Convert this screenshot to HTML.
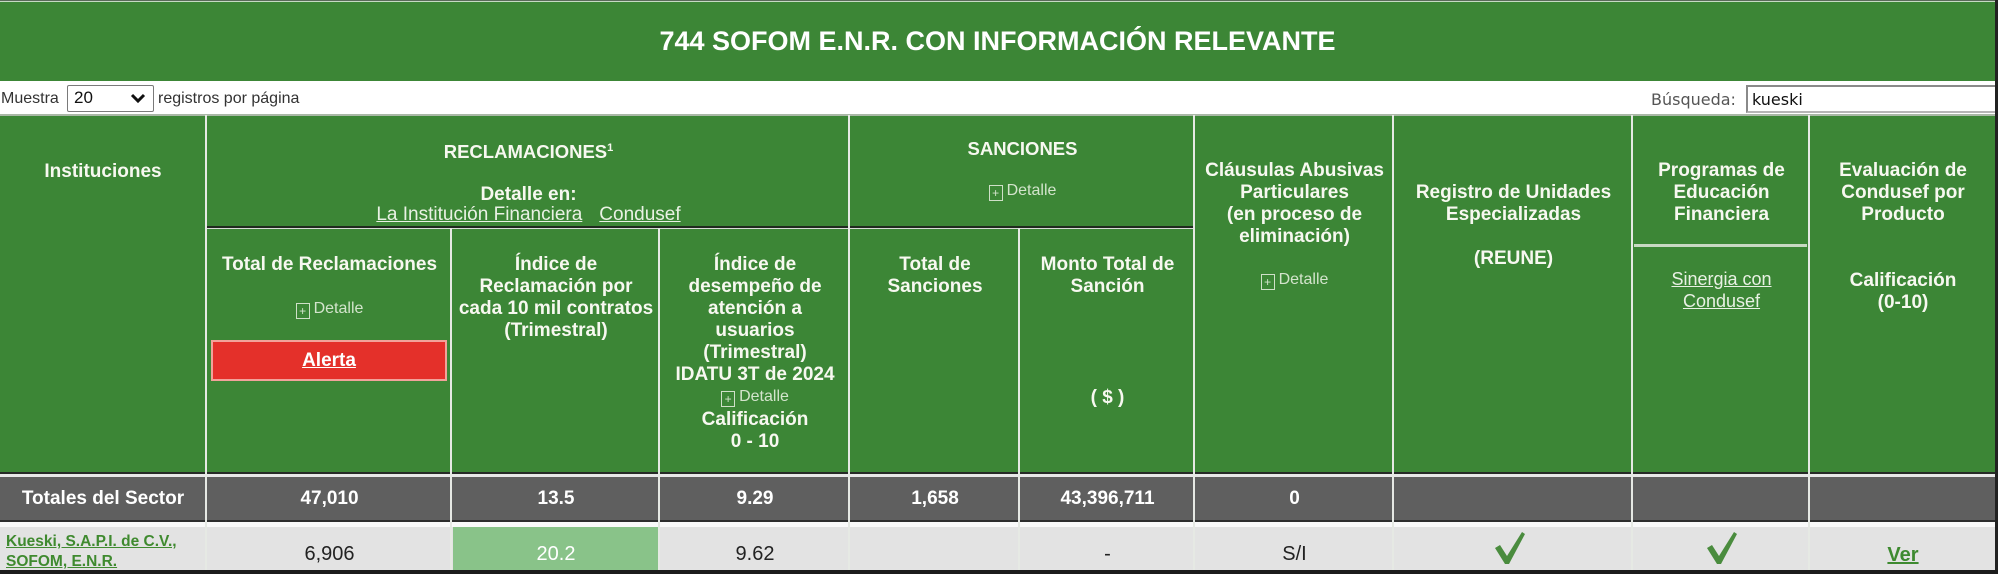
<!DOCTYPE html>
<html>
<head>
<meta charset="utf-8">
<style>
  html,body{margin:0;padding:0;}
  body{width:1998px;height:574px;position:relative;overflow:hidden;background:#fff;font-family:"Liberation Sans",Arial,sans-serif;}
  .a{position:absolute;}
  .c{position:absolute;text-align:center;white-space:nowrap;height:22px;line-height:22px;}
  .h{color:#f7f8f0;font-weight:bold;font-size:19px;}
  .det{color:#d3e4cc;font-size:16px;font-weight:normal;}
  .ic{display:inline-block;width:12px;height:14px;border:1px solid #cfe0c8;font-size:12px;line-height:14px;text-align:center;vertical-align:-2px;margin-right:4px;color:#d3e4cc;}
  .vl{position:absolute;width:2px;background:#e6e9e4;}
  .tot{color:#fff;font-weight:bold;font-size:19px;}
  .val{color:#222;font-size:20px;}
  .lnk{color:#e9f1e4;text-decoration:underline;font-weight:normal;font-size:19px;}
</style>
</head>
<body>
<!-- top edge -->
<div class="a" style="left:0;top:0;width:1998px;height:1px;background:#5a6a5a;"></div>
<div class="a" style="left:0;top:1px;width:1998px;height:1px;background:#c6dac4;"></div>
<!-- title bar -->
<div class="a" style="left:0;top:2px;width:1995px;height:79px;background:#3c8636;"></div>
<div class="a" style="left:0;top:25px;width:1995px;height:32px;line-height:32px;text-align:center;color:#fff;font-weight:bold;font-size:27px;white-space:nowrap;">744 SOFOM E.N.R. CON INFORMACIÓN RELEVANTE</div>

<!-- toolbar -->
<div class="a" style="left:1px;top:88px;height:22px;line-height:22px;font-size:16px;color:#333;white-space:nowrap;">Muestra</div>
<div class="a" style="left:67px;top:85px;width:85px;height:25px;border:1px solid #7a7a7a;border-radius:2px;background:#fff;"></div>
<div class="a" style="left:74px;top:87px;height:22px;line-height:22px;font-size:17px;color:#111;">20</div>
<svg class="a" style="left:130px;top:93px;" width="16" height="12" viewBox="0 0 16 12"><polyline points="2,2 8,8 14,2" fill="none" stroke="#111" stroke-width="3"/></svg>
<div class="a" style="left:158px;top:88px;height:22px;line-height:22px;font-size:16px;color:#333;white-space:nowrap;">registros por página</div>

<div class="a" style="left:1651px;top:89px;height:22px;line-height:22px;font-size:16px;color:#555;font-family:'DejaVu Sans',sans-serif;white-space:nowrap;">Búsqueda:</div>
<div class="a" style="left:1746px;top:85px;width:260px;height:24px;border-top:2px solid #8a8a8a;border-left:2px solid #8a8a8a;border-bottom:2px solid #b5b5b5;background:#fff;"></div>
<div class="a" style="left:1752px;top:89px;height:22px;line-height:22px;font-size:16px;color:#111;font-family:'DejaVu Sans',sans-serif;">kueski</div>

<!-- header background -->
<div class="a" style="left:0;top:115px;width:1995px;height:358px;background:#3c8636;"></div>
<div class="a" style="left:0;top:114px;width:1995px;height:2px;background:#a9b8a6;"></div>

<!-- totals row -->
<div class="a" style="left:0;top:472px;width:1995px;height:2px;background:#262a26;"></div>
<div class="a" style="left:0;top:474px;width:1995px;height:3px;background:#e8e8e8;"></div>
<div class="a" style="left:0;top:477px;width:1995px;height:44px;background:#5f5f5f;"></div>
<div class="a" style="left:0;top:520px;width:1995px;height:2px;background:#2e2e2e;"></div>
<div class="a" style="left:0;top:522px;width:1995px;height:5px;background:#fafafa;"></div>
<!-- kueski row -->
<div class="a" style="left:0;top:527px;width:1995px;height:43px;background:#e3e3e3;"></div>
<div class="a" style="left:453px;top:527px;width:206px;height:43px;background:#89c389;"></div>

<!-- group separator -->
<div class="a" style="left:206px;top:226px;width:988px;height:2px;background:#1f2a1e;"></div>
<div class="a" style="left:206px;top:228px;width:988px;height:1px;background:#d8dcd6;"></div>

<!-- vertical lines -->
<div class="vl" style="left:205px;top:115px;height:455px;"></div>
<div class="vl" style="left:450px;top:228px;height:342px;"></div>
<div class="vl" style="left:658px;top:228px;height:342px;"></div>
<div class="vl" style="left:848px;top:115px;height:455px;"></div>
<div class="vl" style="left:1018px;top:228px;height:342px;"></div>
<div class="vl" style="left:1193px;top:115px;height:455px;"></div>
<div class="vl" style="left:1392px;top:115px;height:455px;"></div>
<div class="vl" style="left:1631px;top:115px;height:455px;"></div>
<div class="vl" style="left:1808px;top:115px;height:455px;"></div>

<!-- Programas inner line -->
<div class="a" style="left:1634px;top:244px;width:173px;height:3px;background:#c8d9c3;"></div>

<!-- edges -->
<div class="a" style="left:1995px;top:0;width:3px;height:574px;background:#222;"></div>
<div class="a" style="left:0;top:570px;width:1998px;height:4px;background:#1c1c1c;"></div>

<!-- Header texts -->
<div class="c h" style="left:0;width:206px;top:161px;">Instituciones</div>

<div class="c h" style="left:208px;width:641px;top:141px;font-size:18.5px;">RECLAMACIONES<sup style="font-size:11px;vertical-align:7px;line-height:0;">1</sup></div>
<div class="c h" style="left:208px;width:641px;top:184px;">Detalle en:</div>
<div class="c" style="left:208px;width:641px;top:204px;"><span class="lnk">La Institución Financiera</span><span style="display:inline-block;width:17px;"></span><span class="lnk">Condusef</span></div>

<div class="c h" style="left:851px;width:343px;top:138px;font-size:18.5px;">SANCIONES</div>
<div class="c det" style="left:851px;width:343px;top:180px;"><span class="ic">+</span>Detalle</div>

<!-- Total de Reclamaciones -->
<div class="c h" style="left:208px;width:243px;top:254px;">Total de Reclamaciones</div>
<div class="c det" style="left:208px;width:243px;top:298px;"><span class="ic">+</span>Detalle</div>
<div class="a" style="left:211px;top:340px;width:232px;height:37px;background:#e4302a;border:2px solid #f2a29a;"></div>
<div class="c" style="left:211px;width:236px;top:350px;color:#fff;font-weight:bold;font-size:19px;text-decoration:underline;">Alerta</div>

<!-- Indice de Reclamacion -->
<div class="c h" style="left:453px;width:206px;top:254px;">Índice de</div>
<div class="c h" style="left:453px;width:206px;top:276px;">Reclamación por</div>
<div class="c h" style="left:453px;width:206px;top:298px;">cada 10 mil contratos</div>
<div class="c h" style="left:453px;width:206px;top:320px;">(Trimestral)</div>

<!-- Indice de desempeño -->
<div class="c h" style="left:661px;width:188px;top:254px;">Índice de</div>
<div class="c h" style="left:661px;width:188px;top:276px;">desempeño de</div>
<div class="c h" style="left:661px;width:188px;top:298px;">atención a</div>
<div class="c h" style="left:661px;width:188px;top:320px;">usuarios</div>
<div class="c h" style="left:661px;width:188px;top:342px;">(Trimestral)</div>
<div class="c h" style="left:661px;width:188px;top:364px;">IDATU 3T de 2024</div>
<div class="c det" style="left:661px;width:188px;top:386px;"><span class="ic">+</span>Detalle</div>
<div class="c h" style="left:661px;width:188px;top:409px;">Calificación</div>
<div class="c h" style="left:661px;width:188px;top:431px;">0 - 10</div>

<!-- Sanciones sub -->
<div class="c h" style="left:851px;width:168px;top:254px;">Total de</div>
<div class="c h" style="left:851px;width:168px;top:276px;">Sanciones</div>
<div class="c h" style="left:1021px;width:173px;top:254px;">Monto Total de</div>
<div class="c h" style="left:1021px;width:173px;top:276px;">Sanción</div>
<div class="c h" style="left:1021px;width:173px;top:387px;">( $ )</div>

<!-- Clausulas -->
<div class="c h" style="left:1196px;width:197px;top:160px;">Cláusulas Abusivas</div>
<div class="c h" style="left:1196px;width:197px;top:182px;">Particulares</div>
<div class="c h" style="left:1196px;width:197px;top:204px;">(en proceso de</div>
<div class="c h" style="left:1196px;width:197px;top:226px;">eliminación)</div>
<div class="c det" style="left:1196px;width:197px;top:269px;"><span class="ic">+</span>Detalle</div>

<!-- Registro -->
<div class="c h" style="left:1395px;width:237px;top:182px;">Registro de Unidades</div>
<div class="c h" style="left:1395px;width:237px;top:204px;">Especializadas</div>
<div class="c h" style="left:1395px;width:237px;top:248px;">(REUNE)</div>

<!-- Programas -->
<div class="c h" style="left:1634px;width:175px;top:160px;">Programas de</div>
<div class="c h" style="left:1634px;width:175px;top:182px;">Educación</div>
<div class="c h" style="left:1634px;width:175px;top:204px;">Financiera</div>
<div class="c" style="left:1634px;width:175px;top:268px;"><span class="lnk" style="font-size:18px;">Sinergia con</span></div>
<div class="c" style="left:1634px;width:175px;top:290px;"><span class="lnk" style="font-size:18px;">Condusef</span></div>

<!-- Evaluacion -->
<div class="c h" style="left:1811px;width:184px;top:160px;">Evaluación de</div>
<div class="c h" style="left:1811px;width:184px;top:182px;">Condusef por</div>
<div class="c h" style="left:1811px;width:184px;top:204px;">Producto</div>
<div class="c h" style="left:1811px;width:184px;top:270px;">Calificación</div>
<div class="c h" style="left:1811px;width:184px;top:292px;">(0-10)</div>

<!-- Totals row text -->
<div class="c tot" style="left:0;width:206px;top:488px;">Totales del Sector</div>
<div class="c tot" style="left:208px;width:243px;top:488px;">47,010</div>
<div class="c tot" style="left:453px;width:206px;top:488px;">13.5</div>
<div class="c tot" style="left:661px;width:188px;top:488px;">9.29</div>
<div class="c tot" style="left:851px;width:168px;top:488px;">1,658</div>
<div class="c tot" style="left:1021px;width:173px;top:488px;">43,396,711</div>
<div class="c tot" style="left:1196px;width:197px;top:488px;">0</div>

<!-- Kueski row -->
<div class="a" style="left:6px;top:532px;line-height:20px;font-size:15.5px;font-weight:bold;color:#3f8a2f;text-decoration:underline;white-space:nowrap;">Kueski, S.A.P.I. de C.V.,<br>SOFOM, E.N.R.</div>
<div class="c val" style="left:208px;width:243px;top:543px;">6,906</div>
<div class="c val" style="left:453px;width:206px;top:543px;color:#fff;">20.2</div>
<div class="c val" style="left:661px;width:188px;top:543px;">9.62</div>
<div class="c val" style="left:1021px;width:173px;top:543px;">-</div>
<div class="c val" style="left:1196px;width:197px;top:543px;">S/I</div>
<svg class="a" style="left:1494px;top:531px;" width="32" height="34" viewBox="0 0 32 34"><path d="M1,17 L6,14 L13,25 L28,1 L31,3 L15,33 L11,33 Z" fill="#4a8c3e"/></svg>
<svg class="a" style="left:1706px;top:531px;" width="32" height="34" viewBox="0 0 32 34"><path d="M1,17 L6,14 L13,25 L28,1 L31,3 L15,33 L11,33 Z" fill="#4a8c3e"/></svg>
<div class="c" style="left:1811px;width:184px;top:544px;font-size:20px;font-weight:bold;color:#3e8a30;text-decoration:underline;">Ver</div>
</body>
</html>
